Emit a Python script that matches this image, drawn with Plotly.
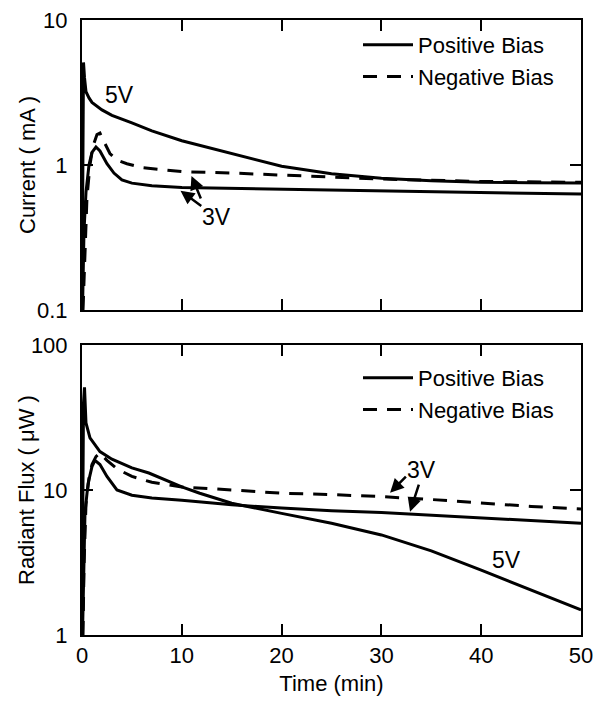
import plotly.graph_objects as go
from plotly.subplots import make_subplots

# ---------------- data ----------------
# Top panel: Current (mA)
cur_pos5_t = [0.0, 0.1, 0.15, 0.25, 0.4, 0.7, 1.0, 2, 3, 5, 7, 10, 13, 16, 20, 25, 30, 35, 40, 45, 50]
cur_pos5_v = [0.1, 1.5, 5.1, 4.0, 3.2, 2.9, 2.7, 2.4, 2.2, 1.95, 1.72, 1.47, 1.3, 1.15, 0.98, 0.87, 0.81, 0.78, 0.76, 0.755, 0.75]

cur_pos3_t = [0.05, 0.2, 0.4, 0.7, 1.0, 1.4, 1.8, 2.5, 3.2, 4, 5, 7, 10, 15, 20, 30, 40, 50]
cur_pos3_v = [0.1, 0.35, 0.65, 1.0, 1.22, 1.33, 1.25, 1.02, 0.88, 0.79, 0.75, 0.72, 0.70, 0.69, 0.68, 0.66, 0.645, 0.63]

cur_neg3_t = [0.1, 0.3, 0.5, 0.8, 1.1, 1.5, 1.8, 2.2, 2.8, 3.5, 4.5, 6, 8, 10, 15, 20, 25, 30, 40, 50]
cur_neg3_v = [0.1, 0.3, 0.6, 1.0, 1.35, 1.62, 1.66, 1.45, 1.2, 1.08, 1.02, 0.96, 0.93, 0.9, 0.88, 0.85, 0.83, 0.8, 0.77, 0.76]

# Bottom panel: Radiant flux (uW)
flx_pos5_t = [0.0, 0.1, 0.15, 0.25, 0.4, 0.8, 1.8, 3, 5, 6.7, 10, 11.8, 15, 20, 25, 30, 35, 40, 45, 50]
flx_pos5_v = [1.0, 10, 40, 51, 29, 22.9, 18.4, 16.3, 14.2, 13.1, 10.5, 9.5, 8.1, 6.9, 5.9, 4.9, 3.8, 2.8, 2.04, 1.49]

flx_pos3_t = [0.05, 0.15, 0.3, 0.6, 1.0, 1.3, 1.8, 2.5, 3.5, 5, 7, 10, 15, 20, 25, 30, 35, 40, 45, 50]
flx_pos3_v = [1.0, 3, 7, 11, 14.5, 16, 15, 12.4, 10, 9.2, 8.8, 8.5, 7.9, 7.5, 7.2, 7.0, 6.7, 6.4, 6.1, 5.9]

flx_neg3_t = [0.1, 0.2, 0.4, 0.7, 1.0, 1.4, 1.8, 2.5, 3.5, 5, 7, 10, 15, 20, 25, 30, 35, 40, 45, 50]
flx_neg3_v = [1.0, 3, 8, 12, 15, 17, 18, 16, 14, 12.4, 11.3, 10.5, 10, 9.5, 9.3, 9.0, 8.6, 8.1, 7.7, 7.4]

x_ticks = [0, 10, 20, 30, 40, 50]
cur_ticks = [0.1, 1, 10]
cur_ticktext = ["0.1", "1", "10"]
flx_ticks = [1, 10, 100]
flx_ticktext = ["1", "10", "100"]

# ---------------- figure ----------------
FONT = "Liberation Sans, Arial, sans-serif"
LW = 3
DASH = "14px,10px"

fig = make_subplots(rows=2, cols=1, vertical_spacing=0.0)

def add(t, v, dash, name, row, legend, show):
    fig.add_trace(go.Scatter(x=t, y=v, mode="lines", name=name,
                             line=dict(color="black", width=LW, dash=dash),
                             showlegend=show, legend=legend),
                  row=row, col=1)

add(cur_pos5_t, cur_pos5_v, "solid", "Positive Bias", 1, "legend", True)
add(cur_neg3_t, cur_neg3_v, DASH, "Negative Bias", 1, "legend", True)
add(cur_pos3_t, cur_pos3_v, "solid", "Positive Bias", 1, "legend", False)

add(flx_pos5_t, flx_pos5_v, "solid", "Positive Bias", 2, "legend2", True)
add(flx_neg3_t, flx_neg3_v, DASH, "Negative Bias", 2, "legend2", True)
add(flx_pos3_t, flx_pos3_v, "solid", "Positive Bias", 2, "legend2", False)

W, H = 595, 709
ml, mr, mt, mb = 82, W - 581, 20, H - 635
pw = W - ml - mr
ph = H - mt - mb
top_dom = [(635 - 310) / ph, 1.0]
bot_dom = [0.0, (635 - 345) / ph]

axis_common = dict(showline=True, linecolor="black", linewidth=2, mirror="ticks",
                   ticks="inside", ticklen=11, tickwidth=2, tickcolor="black",
                   showgrid=False, zeroline=False, automargin=False,
                   tickfont=dict(family=FONT, size=22, color="black"))

fig.update_xaxes(**axis_common, range=[0, 50], tickvals=x_ticks)
fig.update_xaxes(showticklabels=False, row=1, col=1)
fig.update_xaxes(title=dict(text="Time (min)", font=dict(family=FONT, size=22, color="black"), standoff=8),
                 row=2, col=1)
fig.update_yaxes(**axis_common)
fig.update_yaxes(type="log", range=[-1, 1], tickvals=cur_ticks, ticktext=cur_ticktext,
                 domain=top_dom, ticklabelstandoff=8, row=1, col=1)
fig.update_yaxes(type="log", range=[0, 2], tickvals=flx_ticks, ticktext=flx_ticktext,
                 domain=bot_dom, ticklabelstandoff=8, row=2, col=1)
fig.update_xaxes(domain=[0, 1])

ann_font = dict(family=FONT, size=23, color="black")
arrow = dict(showarrow=True, arrowhead=2, arrowsize=1.1, arrowwidth=2.5, arrowcolor="black", standoff=0, text="")
annotations = [
    # y-axis titles
    dict(text="Current ( mA )", xref="paper", yref="paper", x=0, xshift=-55,
         y=(top_dom[0] + top_dom[1]) / 2, textangle=-90, showarrow=False,
         xanchor="center", yanchor="middle", font=dict(family=FONT, size=22, color="black")),
    dict(text="Radiant Flux ( \u03bcW )", xref="paper", yref="paper", x=0, xshift=-55,
         y=(bot_dom[0] + bot_dom[1]) / 2, textangle=-90, showarrow=False,
         xanchor="center", yanchor="middle", font=dict(family=FONT, size=22, color="black")),
    # top panel labels
    dict(text="5V", xref="x", yref="y", x=3.8, y=0.483, showarrow=False, font=ann_font),
    dict(text="3V", xref="x", yref="y", x=13.5, y=-0.359, showarrow=False, font=ann_font),
    dict(xref="x", yref="y", x=9.87, y=-0.177, axref="x", ayref="y", ax=12.1, ay=-0.29, **arrow),
    dict(xref="x", yref="y", x=10.97, y=-0.076, axref="x", ayref="y", ax=11.97, ay=-0.241, **arrow),
    # bottom panel labels
    dict(text="3V", xref="x2", yref="y2", x=33.97, y=1.138, showarrow=False, font=ann_font),
    dict(text="5V", xref="x2", yref="y2", x=42.5, y=0.517, showarrow=False, font=ann_font),
    dict(xref="x2", yref="y2", x=30.87, y=0.981, axref="x2", ayref="y2", ax=32.6, ay=1.103, **arrow),
    dict(xref="x2", yref="y2", x=32.87, y=0.850, axref="x2", ayref="y2", ax=33.8, ay=1.048, **arrow),
]

leg_common = dict(font=dict(family=FONT, size=22, color="black"), bgcolor="rgba(0,0,0,0)",
                  borderwidth=0, itemwidth=50, tracegroupgap=0,
                  xanchor="left", yanchor="top", x=(358 - 82) / pw)

fig.update_layout(
    template="none",
    width=W, height=H,
    margin=dict(l=ml, r=mr, t=mt, b=mb, autoexpand=False),
    paper_bgcolor="white", plot_bgcolor="white",
    font=dict(family=FONT, color="black"),
    annotations=annotations,
    legend=dict(**leg_common, y=1.0 - 4 / ph),
    legend2=dict(**leg_common, y=bot_dom[1] - 12 / ph),
)

fig.write_html("out.html",
               config={"displayModeBar": False, "staticPlot": True},
               post_script="document.body.style.margin='0';document.body.style.overflow='hidden';")
